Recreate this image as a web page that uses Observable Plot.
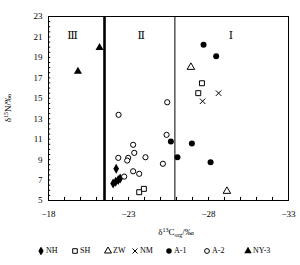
<!DOCTYPE html>
<html><head><meta charset="utf-8">
<script src="https://cdn.jsdelivr.net/npm/d3@7"></script>
<script src="https://cdn.jsdelivr.net/npm/@observablehq/plot@0.6"></script>
<style>
body{margin:0;background:#fff;font-family:"Liberation Serif","DejaVu Serif",serif;}
#legend{position:relative;width:300px;height:25px;font-size:8px;color:#000;}
#legend .item{position:absolute;top:6px;display:flex;align-items:center;white-space:nowrap;}
#legend svg{margin-right:1px;}
</style></head><body><div id="chart"></div><div id="legend"></div>
<script>
const seriesNames = ["NH","SH","ZW","NM","A-1","A-2","NY-3"];
const nhX = [-22.23,-22.04,-22.20,-22.36,-22.48];
const nhY = [8.10,6.66,6.83,7.00,7.15];
const shX = [-27.59,-27.36,-23.67,-23.96];
const shY = [16.47,15.50,5.81,6.14];
const zwX = [-26.90,-29.15];
const zwY = [18.04,5.91];
const nmX = [-28.63,-27.63];
const nmY = [15.50,14.71];
const a1X = [-27.69,-28.48,-25.65,-26.06,-26.96,-28.13];
const a1Y = [20.23,19.12,10.77,9.23,10.57,8.74];
const a2X = [-22.38,-25.42,-25.38,-23.29,-23.36,-22.36,-22.98,-22.92,-24.06,-25.15,-23.29,-23.67,-22.73];
const a2Y = [13.38,14.61,11.42,10.45,9.66,9.17,9.17,8.91,9.23,8.59,7.86,7.61,7.34];
const ny3X = [-21.19,-19.84];
const ny3Y = [19.94,17.62];
const regionLabels = ["Ⅲ","Ⅱ","Ⅰ"];
const regionX = [-19.5,-23.8,-29.4];
const regionY = [21.1,21.1,21.1];
const boundaryX = [-21.5,-25.9];
const xTickLabels = [-18,-23,-28,-33];
const yTickLabels = [5,7,9,11,13,15,17,19,21,23];
const xDomain = [-18,-33];
const yDomain = [5,23];

// styles (kept separate from data)
const seriesX = [nhX,shX,zwX,nmX,a1X,a2X,ny3X];
const seriesY = [nhY,shY,zwY,nmY,a1Y,a2Y,ny3Y];
const symbols = ["diamond","square","triangle","times","circle","circle","triangle"];
const filled = [true,false,false,false,true,false,true];
const radii = [3,2.8,2.8,2.6,3,2.6,3];

const rows = seriesNames.flatMap((s,i)=>seriesX[i].map((x,j)=>({series:s,x,y:seriesY[i][j]})));
const xMinor = d3.range(xDomain[0], xDomain[1]-0.01, -1);
const yMinor = d3.range(yDomain[0], yDomain[1]+0.01, 0.5);
const regions = regionLabels.map((t,i)=>({t,x:regionX[i],y:regionY[i]}));

const dotMarks = seriesNames.map((s,i)=>Plot.dot(rows.filter(d=>d.series===s),{
  x:"x", y:"y", symbol: symbols[i], r: radii[i],
  fill: filled[i] ? "black" : (symbols[i]==="times" ? "none" : "white"),
  stroke: filled[i] ? "none" : "black", strokeWidth: 1
}));

const svg = Plot.plot({
  width: 300, height: 240,
  marginLeft: 48, marginRight: 12, marginTop: 16, marginBottom: 40,
  style: {fontFamily: "'Liberation Serif','DejaVu Serif',serif", fontSize: "9px", background: "white", color: "black"},
  x: {domain: xDomain, label: null},
  y: {domain: yDomain, label: null},
  marks: [
    Plot.ruleX(xMinor, {x: d=>d, y1: yDomain[0], y2: yDomain[0]+0.3, stroke: "black"}),
    Plot.ruleY(yMinor, {y: d=>d, x1: xDomain[0], x2: xDomain[0]-0.14, stroke: "black"}),
    Plot.axisX({ticks: xTickLabels, tickSize: 0, tickPadding: 10, tickFormat: d=>"\u2212"+Math.abs(d), fontSize: 9}),
    Plot.axisY({ticks: yTickLabels, tickSize: 0, tickPadding: 6, tickFormat: d=>String(d), fontSize: 9}),
    Plot.ruleX([boundaryX[0]], {x: d=>d, strokeWidth: 2.6, stroke: "black"}),
    Plot.ruleX([boundaryX[1]], {x: d=>d, strokeWidth: 1, stroke: "black"}),
    Plot.frame({stroke: "black", strokeWidth: 1}),
    Plot.text(regions, {x:"x", y:"y", text:"t", fontSize: 11, fill: "black", stroke: "none", fontFamily: "'DejaVu Serif','Liberation Serif',serif"}),
    ...dotMarks
  ]
});
document.getElementById("chart").appendChild(svg);

const s = d3.select(svg);
// x-axis title
const xt = s.append("text").attr("x", 176).attr("y", 235).attr("text-anchor","middle")
  .attr("font-size", 9).attr("fill","black");
xt.append("tspan").text("\u03b4");
xt.append("tspan").attr("font-size",6).attr("dy",-3).text("13");
xt.append("tspan").attr("dy",3).text("C");
xt.append("tspan").attr("font-size",6).attr("dy",2).text("org");
xt.append("tspan").attr("dy",-2).text("/\u2030");
// y-axis title
const yt = s.append("text").attr("transform","translate(11,108) rotate(-90)").attr("text-anchor","middle")
  .attr("font-size", 9).attr("fill","black");
yt.append("tspan").text("\u03b4");
yt.append("tspan").attr("font-size",6).attr("dy",-3).text("15");
yt.append("tspan").attr("dy",3).text("N/\u2030");

// legend
const legendLeft = [37,71,104,131,165,203,244];
const leg = d3.select("#legend");
seriesNames.forEach((name,i)=>{
  const item = leg.append("div").attr("class","item").style("left", legendLeft[i]+"px");
  const sv = item.append("svg").attr("width",8).attr("height",8);
  const sym = {diamond:d3.symbolDiamond, square:d3.symbolSquare, triangle:d3.symbolTriangle, times:d3.symbolTimes, circle:d3.symbolCircle}[symbols[i]];
  sv.append("path").attr("transform","translate(4,4)")
    .attr("d", d3.symbol(sym, Math.PI*radii[i]*radii[i]*0.85)())
    .attr("fill", filled[i] ? "black" : (symbols[i]==="times"?"none":"white"))
    .attr("stroke", filled[i] ? "none" : "black");
  item.append("span").text(name);
});
</script></body></html>
